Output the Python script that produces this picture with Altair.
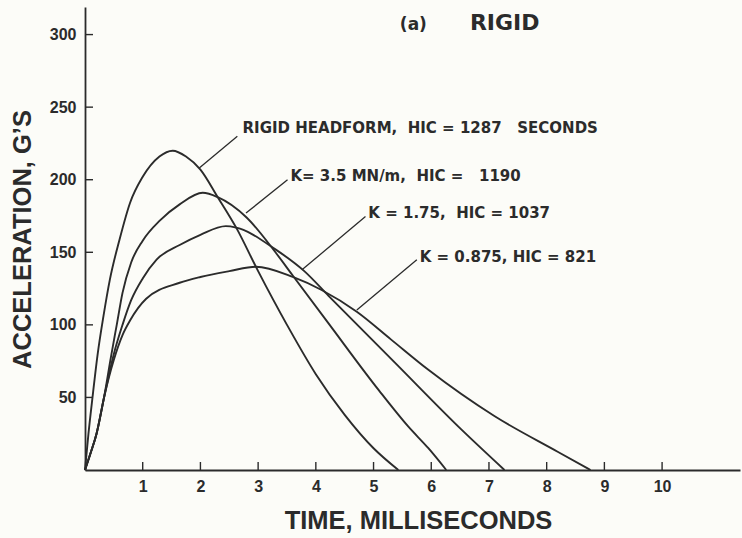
import altair as alt
import pandas as pd

# Acceleration pulses (G) against time (ms) for each impact surface
rigid_t = [0, 0.06, 0.13, 0.22, 0.32, 0.43, 0.60, 0.78, 1.00, 1.29, 1.52, 1.75, 2.00, 2.30, 2.62, 3.00, 3.50, 4.00, 4.50, 5.00, 5.43]
rigid_g = [0, 25, 50, 80, 106, 131, 159, 184, 202, 216, 220, 216, 207, 188, 167, 137, 100, 66, 38, 15, 0]

k35_t = [0, 0.10, 0.20, 0.33, 0.45, 0.55, 0.65, 0.80, 1.00, 1.30, 1.64, 2.04, 2.30, 2.80, 3.30, 3.60, 4.22, 5.09, 5.60, 5.95, 6.26]
k35_g = [0, 12, 25, 50, 78, 100, 122, 143, 158, 172, 183, 191, 188, 174, 150, 134, 101, 55, 30, 15, 0]

k175_t = [0, 0.10, 0.20, 0.33, 0.50, 0.65, 0.80, 1.00, 1.24, 1.64, 2.00, 2.44, 2.62, 3.30, 3.80, 4.22, 5.37, 6.52, 7.27]
k175_g = [0, 12, 25, 50, 80, 100, 117, 132, 145, 155, 162, 168, 167, 152, 137, 120, 74, 28, 0]

k0875_t = [0, 0.10, 0.20, 0.33, 0.50, 0.65, 0.78, 1.06, 1.64, 2.00, 2.50, 2.96, 3.60, 4.10, 4.71, 5.30, 5.95, 7.10, 8.19, 8.76]
k0875_g = [0, 12, 25, 50, 76, 93, 103, 118, 129, 133, 137, 140, 133, 124, 109, 90, 69, 37, 12.6, 0]

series_names = ["rigid", "k3.5", "k1.75", "k0.875"]

# Curve labels (non-breaking spaces keep the wider gaps) and their leader lines
NB = "\u00a0"
label_text = [
    f"RIGID HEADFORM,{NB} HIC = 1287{NB}{NB} SECONDS",
    f"K= 3.5 MN/m,{NB} HIC ={NB}{NB} 1190",
    f"K = 1.75,{NB} HIC = 1037",
    "K = 0.875, HIC = 821",
]
label_t = [2.73, 3.56, 4.91, 5.80]
label_g = [235.7, 202.3, 177.0, 147.0]
leader_t0 = [2.64, 3.51, 4.86, 5.75]
leader_g0 = [229.9, 200.0, 174.7, 144.8]
leader_t1 = [1.98, 2.79, 3.76, 4.71]
leader_g1 = [208.0, 177.0, 137.9, 110.3]

x_ticks = [1, 2, 3, 4, 5, 6, 7, 8, 9, 10]
y_ticks = [50, 100, 150, 200, 250, 300]

INK = "#2b2b2b"
X_DOMAIN = [0, 11.35]
Y_DOMAIN = [0, 319]

rows = []
for name, ts, gs in zip(series_names,
                        [rigid_t, k35_t, k175_t, k0875_t],
                        [rigid_g, k35_g, k175_g, k0875_g]):
    for t, g in zip(ts, gs):
        rows.append({"series": name, "time": t, "acc": g})
curves = pd.DataFrame(rows)

labels = pd.DataFrame({"text": label_text, "time": label_t, "acc": label_g})
leaders = pd.DataFrame({"time": leader_t0, "acc": leader_g0,
                        "time2": leader_t1, "acc2": leader_g1})
xt = pd.DataFrame({"time": x_ticks})
yt = pd.DataFrame({"acc": y_ticks})
head_a = pd.DataFrame({"text": ["(a)"], "time": [5.69], "acc": [303.4]})
head_rigid = pd.DataFrame({"text": ["RIGID"], "time": [6.67], "acc": [303.4]})

x_scale = alt.Scale(domain=X_DOMAIN, nice=False, zero=False)
y_scale = alt.Scale(domain=Y_DOMAIN, nice=False, zero=False)

x_axis = alt.Axis(title="TIME, MILLISECONDS", values=x_ticks, format="d",
                  titleX=333, titleY=58, titleAlign="center",
                  titleBaseline="alphabetic", labelPadding=8)
y_axis = alt.Axis(title="ACCELERATION, G\u2019S", values=y_ticks, format="d",
                  titleX=-63, titleY=232, titleAngle=270, titleAlign="center",
                  titleBaseline="middle", labelPadding=9)

X = alt.X("time:Q", scale=x_scale, axis=x_axis)
Y = alt.Y("acc:Q", scale=y_scale, axis=y_axis)

lines = alt.Chart(curves).mark_line(
    interpolate="monotone", color=INK, strokeWidth=1.9
).encode(x=X, y=Y, detail="series:N")

leader_rules = alt.Chart(leaders).mark_rule(color=INK, strokeWidth=1.3).encode(
    x=X, y=Y, x2="time2:Q", y2="acc2:Q",
)

label_marks = alt.Chart(labels).mark_text(
    align="left", baseline="middle", font="DejaVu Sans", fontWeight="bold",
    fontSize=15, color=INK,
).encode(x=X, y=Y, text="text:N")

# Inward-pointing tick marks on both axes
x_tick_marks = alt.Chart(xt).mark_rule(color=INK, strokeWidth=1.4).encode(
    x=X, y=alt.value(463), y2=alt.value(455),
)
y_tick_marks = alt.Chart(yt).mark_rule(color=INK, strokeWidth=1.4).encode(
    y=Y, x=alt.value(0), x2=alt.value(8),
)

heading_a = alt.Chart(head_a).mark_text(
    align="center", baseline="alphabetic", font="DejaVu Sans", fontWeight="bold",
    fontSize=17, color=INK,
).encode(x=X, y=Y, text="text:N")
heading_rigid = alt.Chart(head_rigid).mark_text(
    align="left", baseline="alphabetic", font="DejaVu Sans", fontWeight="bold",
    fontSize=22, color=INK,
).encode(x=X, y=Y, text="text:N")

chart = alt.layer(
    lines, leader_rules, label_marks, x_tick_marks, y_tick_marks, heading_a, heading_rigid
).properties(
    width=655, height=463,
    autosize=alt.AutoSizeParams(type="none"),
    padding={"left": 85, "top": 7, "right": 2, "bottom": 68},
    background="#fcfcf8",
).configure_view(
    stroke=None
).configure_axis(
    grid=False, ticks=False, tickSize=0,
    domainColor=INK, domainWidth=1.8,
    labelFont="Liberation Sans", labelFontWeight="bold", labelFontSize=16, labelColor=INK,
    titleFont="Liberation Sans", titleFontWeight="bold", titleFontSize=25.5, titleColor=INK,
)

chart.save("out.html", embed_options={"renderer": "svg", "actions": False})
